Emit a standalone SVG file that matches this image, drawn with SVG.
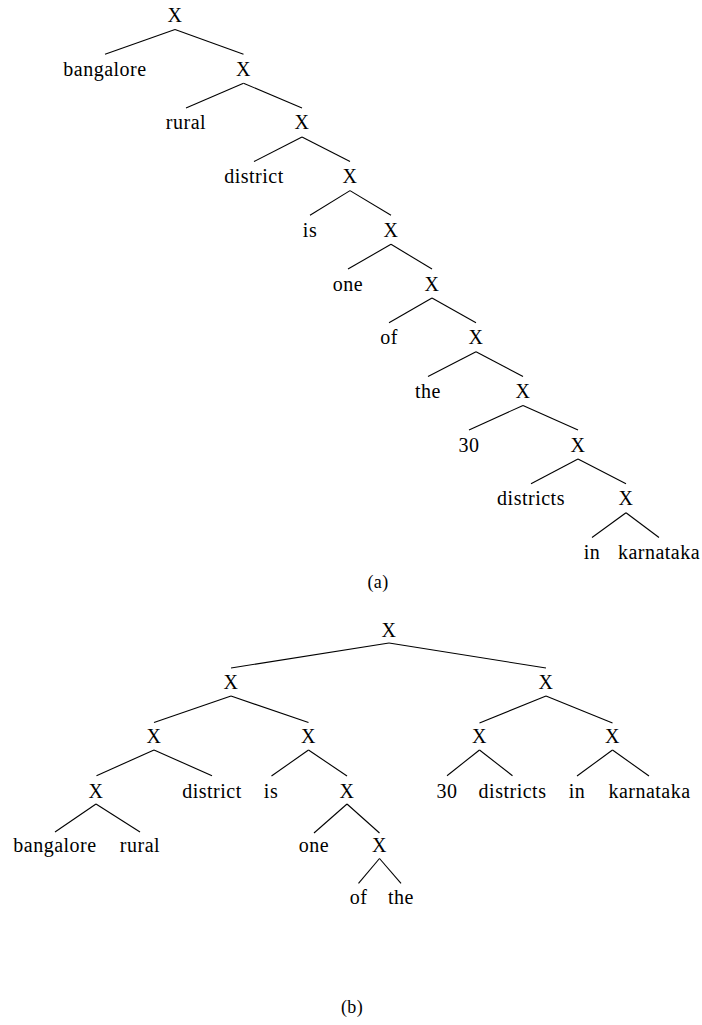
<svg xmlns="http://www.w3.org/2000/svg" width="702" height="1025" viewBox="0 0 702 1025">
<style>
text{font-family:'Liberation Serif','DejaVu Serif',serif;font-size:20px;letter-spacing:0.5px;text-anchor:middle;fill:#000}
.cap{font-size:18px;letter-spacing:0.3px}
line{stroke:#000;stroke-width:1.1;fill:none}
</style>
<rect width="702" height="1025" fill="#fff"/>
<g id="connectors">
<line x1="175" y1="29.5" x2="105" y2="54.2"/><line x1="175" y1="29.5" x2="243.5" y2="54.2"/>
<line x1="243.5" y1="83.2" x2="186" y2="107.9"/><line x1="243.5" y1="83.2" x2="302" y2="107.9"/>
<line x1="302" y1="136.9" x2="254" y2="161.6"/><line x1="302" y1="136.9" x2="350" y2="161.6"/>
<line x1="350" y1="190.6" x2="310" y2="215.3"/><line x1="350" y1="190.6" x2="391" y2="215.3"/>
<line x1="391" y1="244.3" x2="348" y2="269"/><line x1="391" y1="244.3" x2="432" y2="269"/>
<line x1="432" y1="298" x2="389" y2="322.7"/><line x1="432" y1="298" x2="476" y2="322.7"/>
<line x1="476" y1="351.7" x2="428" y2="376.4"/><line x1="476" y1="351.7" x2="523" y2="376.4"/>
<line x1="523" y1="405.4" x2="469" y2="430.1"/><line x1="523" y1="405.4" x2="578" y2="430.1"/>
<line x1="578" y1="459.1" x2="531" y2="483.8"/><line x1="578" y1="459.1" x2="626" y2="483.8"/>
<line x1="626" y1="512.8" x2="592" y2="537.5"/><line x1="626" y1="512.8" x2="659" y2="537.5"/>
<line x1="389" y1="643" x2="231" y2="668"/><line x1="389" y1="643" x2="546" y2="668"/>
<line x1="231" y1="696" x2="154" y2="722.5"/><line x1="231" y1="696" x2="308.5" y2="722.5"/>
<line x1="546" y1="696" x2="479.5" y2="723"/><line x1="546" y1="696" x2="612.5" y2="723"/>
<line x1="154" y1="750" x2="96.5" y2="775.7"/><line x1="154" y1="750" x2="212" y2="775.7"/>
<line x1="308.5" y1="750" x2="271.5" y2="776"/><line x1="308.5" y1="750" x2="347" y2="776"/>
<line x1="479.5" y1="750" x2="447" y2="775.7"/><line x1="479.5" y1="750" x2="512.5" y2="775.7"/>
<line x1="612.5" y1="750" x2="577" y2="776"/><line x1="612.5" y1="750" x2="649" y2="776"/>
<line x1="96" y1="804" x2="55" y2="832"/><line x1="96" y1="804" x2="140" y2="832"/>
<line x1="347" y1="804" x2="314" y2="833"/><line x1="347" y1="804" x2="379.5" y2="833"/>
<line x1="379.5" y1="858.5" x2="358.5" y2="883.3"/><line x1="379.5" y1="858.5" x2="401" y2="883.3"/>
</g>
<g id="a_x0"><text x="175" y="22">X</text></g>
<g id="a_bangalore"><text x="105" y="75.7">bangalore</text></g>
<g id="a_x1"><text x="243.5" y="75.7">X</text></g>
<g id="a_rural"><text x="186" y="129.4">rural</text></g>
<g id="a_x2"><text x="302" y="129.4">X</text></g>
<g id="a_district"><text x="254" y="183.1">district</text></g>
<g id="a_x3"><text x="350" y="183.1">X</text></g>
<g id="a_is"><text x="310" y="236.8">is</text></g>
<g id="a_x4"><text x="391" y="236.8">X</text></g>
<g id="a_one"><text x="348" y="290.5">one</text></g>
<g id="a_x5"><text x="432" y="290.5">X</text></g>
<g id="a_of"><text x="389" y="344.2">of</text></g>
<g id="a_x6"><text x="476" y="344.2">X</text></g>
<g id="a_the"><text x="428" y="397.9">the</text></g>
<g id="a_x7"><text x="523" y="397.9">X</text></g>
<g id="a_30"><text x="469" y="451.6">30</text></g>
<g id="a_x8"><text x="578" y="451.6">X</text></g>
<g id="a_districts"><text x="531" y="505.3">districts</text></g>
<g id="a_x9"><text x="626" y="505.3">X</text></g>
<g id="a_in"><text x="592" y="559">in</text></g>
<g id="a_karnataka"><text x="659" y="559">karnataka</text></g>
<g id="cap_a"><text class="cap" x="378" y="588">(a)</text></g>
<g id="b_root"><text x="389" y="637">X</text></g>
<g id="b_xl"><text x="231" y="689">X</text></g>
<g id="b_xr"><text x="546" y="689">X</text></g>
<g id="b_xll"><text x="154" y="743">X</text></g>
<g id="b_xlr"><text x="308.5" y="743">X</text></g>
<g id="b_xrl"><text x="479.5" y="743">X</text></g>
<g id="b_xrr"><text x="612.5" y="743">X</text></g>
<g id="b_xlll"><text x="96" y="797.5">X</text></g>
<g id="b_district"><text x="212" y="797.5">district</text></g>
<g id="b_is"><text x="271" y="797.5">is</text></g>
<g id="b_xlrr"><text x="347" y="797.5">X</text></g>
<g id="b_30"><text x="447" y="797.5">30</text></g>
<g id="b_districts"><text x="512.5" y="797.5">districts</text></g>
<g id="b_in"><text x="577" y="797.5">in</text></g>
<g id="b_karnataka"><text x="649.5" y="797.5">karnataka</text></g>
<g id="b_bangalore"><text x="55" y="851.5">bangalore</text></g>
<g id="b_rural"><text x="140" y="851.5">rural</text></g>
<g id="b_one"><text x="314" y="851.5">one</text></g>
<g id="b_xofthe"><text x="379.5" y="851.5">X</text></g>
<g id="b_of"><text x="358.5" y="904">of</text></g>
<g id="b_the"><text x="401" y="904">the</text></g>
<g id="cap_b"><text class="cap" x="352" y="1013">(b)</text></g>
</svg>
